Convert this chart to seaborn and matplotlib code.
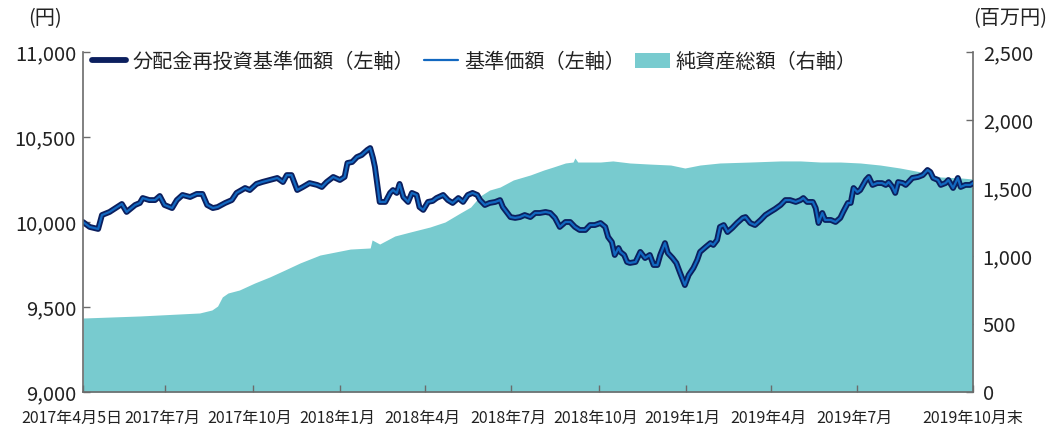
import matplotlib
matplotlib.use("Agg")
import matplotlib.pyplot as plt
import matplotlib.transforms as mtransforms
from matplotlib.lines import Line2D
from matplotlib.patches import Patch
import pandas as pd
import seaborn as sns

# ---------------- data ----------------
nav_dates = [
    "2017-04-05", "2017-04-12", "2017-04-21", "2017-04-25", "2017-05-03", "2017-05-16", "2017-05-21",
    "2017-05-30", "2017-06-04", "2017-06-07", "2017-06-14", "2017-06-20", "2017-06-25", "2017-06-30",
    "2017-07-08", "2017-07-13", "2017-07-19", "2017-07-27", "2017-08-03", "2017-08-09", "2017-08-14",
    "2017-08-20", "2017-08-25", "2017-09-02", "2017-09-09", "2017-09-14", "2017-09-23", "2017-09-28",
    "2017-10-05", "2017-10-11", "2017-10-19", "2017-10-27", "2017-11-02", "2017-11-06", "2017-11-11",
    "2017-11-17", "2017-11-23", "2017-11-30", "2017-12-08", "2017-12-13", "2017-12-18", "2017-12-25",
    "2018-01-01", "2018-01-06", "2018-01-09", "2018-01-14", "2018-01-19", "2018-01-24", "2018-01-30",
    "2018-02-02", "2018-02-05", "2018-02-07", "2018-02-10", "2018-02-12", "2018-02-18", "2018-02-23",
    "2018-02-26", "2018-03-02", "2018-03-05", "2018-03-09", "2018-03-14", "2018-03-18", "2018-03-23",
    "2018-03-26", "2018-03-30", "2018-04-04", "2018-04-09", "2018-04-13", "2018-04-20", "2018-04-25",
    "2018-04-30", "2018-05-06", "2018-05-11", "2018-05-16", "2018-05-21", "2018-05-26", "2018-05-29",
    "2018-06-03", "2018-06-08", "2018-06-14", "2018-06-19", "2018-06-22", "2018-06-26", "2018-06-30",
    "2018-07-05", "2018-07-10", "2018-07-15", "2018-07-21", "2018-07-26", "2018-07-31", "2018-08-06",
    "2018-08-11", "2018-08-16", "2018-08-21", "2018-08-27", "2018-09-01", "2018-09-06", "2018-09-11",
    "2018-09-17", "2018-09-22", "2018-09-27", "2018-10-03", "2018-10-08", "2018-10-11", "2018-10-15",
    "2018-10-18", "2018-10-22", "2018-10-24", "2018-10-28", "2018-10-31", "2018-11-03", "2018-11-09",
    "2018-11-14", "2018-11-19", "2018-11-24", "2018-11-28", "2018-12-02", "2018-12-05", "2018-12-10",
    "2018-12-13", "2018-12-18", "2018-12-22", "2018-12-26", "2018-12-31", "2019-01-04", "2019-01-09",
    "2019-01-13", "2019-01-16", "2019-01-22", "2019-01-27", "2019-01-30", "2019-02-03", "2019-02-06",
    "2019-02-10", "2019-02-14", "2019-02-19", "2019-02-24", "2019-03-02", "2019-03-05", "2019-03-10",
    "2019-03-15", "2019-03-21", "2019-03-26", "2019-03-31", "2019-04-05", "2019-04-11", "2019-04-16",
    "2019-04-21", "2019-04-27", "2019-05-02", "2019-05-05", "2019-05-09", "2019-05-15", "2019-05-18",
    "2019-05-21", "2019-05-25", "2019-05-28", "2019-06-03", "2019-06-08", "2019-06-13", "2019-06-16",
    "2019-06-21", "2019-06-24", "2019-06-27", "2019-07-01", "2019-07-04", "2019-07-10", "2019-07-13",
    "2019-07-17", "2019-07-22", "2019-07-27", "2019-07-31", "2019-08-03", "2019-08-07", "2019-08-10",
    "2019-08-13", "2019-08-18", "2019-08-21", "2019-08-24", "2019-08-28", "2019-09-03", "2019-09-08",
    "2019-09-13", "2019-09-16", "2019-09-19", "2019-09-24", "2019-09-27", "2019-10-02", "2019-10-05",
    "2019-10-10", "2019-10-15", "2019-10-18", "2019-10-23", "2019-10-28", "2019-10-31",
]
nav_values = [
    10000, 9971, 9959, 10041, 10059, 10106, 10059,
    10100, 10112, 10141, 10129, 10129, 10153, 10100,
    10082, 10129, 10159, 10147, 10165, 10165, 10100,
    10082, 10088, 10112, 10129, 10171, 10200, 10188,
    10224, 10235, 10247, 10259, 10235, 10276, 10276,
    10188, 10206, 10229, 10218, 10206, 10235, 10265,
    10247, 10265, 10347, 10353, 10382, 10394, 10424,
    10435, 10376, 10324, 10200, 10118, 10118, 10171,
    10188, 10171, 10224, 10147, 10118, 10171, 10159,
    10088, 10071, 10118, 10124, 10141, 10159, 10129,
    10112, 10141, 10118, 10159, 10171, 10159, 10129,
    10100, 10112, 10118, 10129, 10088, 10059, 10029,
    10024, 10029, 10041, 10029, 10053, 10053, 10059,
    10053, 10024, 9971, 10000, 10000, 9971, 9953,
    9953, 9982, 9982, 9994, 9971, 9912, 9882,
    9806, 9847, 9824, 9806, 9765, 9759, 9765,
    9824, 9788, 9806, 9747, 9747, 9806, 9876,
    9818, 9788, 9759, 9700, 9629, 9688, 9729,
    9776, 9824, 9853, 9876, 9865, 9894, 9971,
    9982, 9941, 9965, 9994, 10024, 10029, 9994,
    9982, 10012, 10041, 10059, 10076, 10100, 10129,
    10129, 10118, 10129, 10141, 10118, 10118, 10082,
    9994, 10053, 10012, 10012, 10000, 10024, 10059,
    10112, 10112, 10200, 10176, 10188, 10247, 10265,
    10218, 10229, 10229, 10218, 10235, 10206, 10171,
    10235, 10229, 10218, 10235, 10259, 10265, 10276,
    10306, 10294, 10259, 10247, 10218, 10229, 10247,
    10200, 10259, 10206, 10218, 10218, 10229,
]
# no distributions were paid, so the reinvested NAV coincides with the NAV
reinvested_values = list(nav_values)

asset_dates = [
    "2017-04-05", "2017-06-04", "2017-08-06", "2017-08-19", "2017-08-25", "2017-08-30", "2017-09-05",
    "2017-09-17", "2017-10-03", "2017-10-19", "2017-11-04", "2017-11-20", "2017-12-11", "2017-12-27",
    "2018-01-12", "2018-02-02", "2018-02-04", "2018-02-12", "2018-02-28", "2018-03-16", "2018-04-06",
    "2018-04-22", "2018-05-08", "2018-05-19", "2018-05-29", "2018-06-08", "2018-06-19", "2018-07-03",
    "2018-07-21", "2018-08-04", "2018-08-14", "2018-08-27", "2018-09-04", "2018-09-06", "2018-09-09",
    "2018-10-03", "2018-10-16", "2018-11-03", "2018-11-24", "2018-12-16", "2018-12-31", "2019-01-16",
    "2019-02-06", "2019-03-10", "2019-04-11", "2019-05-02", "2019-05-23", "2019-06-13", "2019-07-04",
    "2019-07-25", "2019-08-15", "2019-09-06", "2019-09-27", "2019-10-18", "2019-10-31",
]
asset_values = [
    544, 559, 581, 603, 632, 699, 728,
    750, 801, 846, 897, 949, 1007, 1029,
    1051, 1059, 1118, 1088, 1147, 1176, 1213,
    1250, 1316, 1360, 1441, 1485, 1507, 1559,
    1596, 1632, 1654, 1684, 1691, 1721, 1691,
    1691, 1699, 1684, 1676, 1669, 1647, 1669,
    1684, 1691, 1699, 1699, 1691, 1691, 1684,
    1669, 1647, 1618, 1581, 1574, 1566,
]

tick_dates = ["2017-04-05", "2017-07-01", "2017-10-01", "2018-01-01", "2018-04-01", "2018-07-01",
              "2018-10-01", "2019-01-01", "2019-04-01", "2019-07-01", "2019-10-31"]
tick_labels = ["2017年4月5日", "2017年7月", "2017年10月", "2018年1月", "2018年4月", "2018年7月",
               "2018年10月", "2019年1月", "2019年4月", "2019年7月", "2019年10月末"]
left_ticks = [9000, 9500, 10000, 10500, 11000]
right_ticks = [0, 500, 1000, 1500, 2000, 2500]
series_labels = ["分配金再投資基準価額（左軸）", "基準価額（左軸）", "純資産総額（右軸）"]

# ---------------- style ----------------
NAVY = "#0b1f5e"
BLUE = "#1268c0"
TEAL = "#78cbcf"
SPINE = "#6b6b6b"
TEXT = "#222222"

sns.set_style("ticks")
plt.rcParams["font.family"] = ["Noto Sans CJK JP", "DejaVu Sans"]

fig = plt.figure(figsize=(10.53, 4.30), dpi=100)
ax = fig.add_axes([83 / 1053, 1 - 392 / 430, (973 - 83) / 1053, (392 - 52) / 430])
ax_r = ax.twinx()
ax.set_zorder(ax_r.get_zorder() + 1)
ax.patch.set_visible(False)

nav_df = pd.DataFrame({"date": pd.to_datetime(nav_dates),
                       "nav": nav_values, "reinvested": reinvested_values})
asset_df = pd.DataFrame({"date": pd.to_datetime(asset_dates), "assets": asset_values})

ax_r.fill_between(asset_df["date"], asset_df["assets"], 0, color=TEAL, lw=0)
sns.lineplot(data=nav_df, x="date", y="reinvested", ax=ax, color=NAVY, lw=4.2,
             legend=False, solid_joinstyle="round")
sns.lineplot(data=nav_df, x="date", y="nav", ax=ax, color=BLUE, lw=1.6,
             legend=False, solid_joinstyle="round")

ax.set_xlim(pd.Timestamp(tick_dates[0]), pd.Timestamp(tick_dates[-1]))
ax.set_ylim(left_ticks[0], left_ticks[-1])
ax_r.set_ylim(right_ticks[0], right_ticks[-1])

ax.set_xticks(pd.to_datetime(tick_dates))
ax.set_xticklabels(tick_labels)
ax.set_yticks(left_ticks)
ax.set_yticklabels([f"{v:,}" for v in left_ticks])
ax_r.set_yticks(right_ticks)
ax_r.set_yticklabels([f"{v:,}" for v in right_ticks])
ax.set_xlabel("")
ax.set_ylabel("")
ax_r.set_ylabel("")

for a in (ax, ax_r):
    a.spines["top"].set_visible(False)
    for s in ("left", "right", "bottom"):
        a.spines[s].set_color(SPINE)
        a.spines[s].set_linewidth(1.2)
ax.spines["right"].set_visible(False)
ax_r.spines["left"].set_visible(False)
ax_r.spines["bottom"].set_visible(False)

ax.tick_params(axis="x", direction="in", length=5, width=1, color=SPINE,
               labelsize=11.5, labelcolor=TEXT, pad=13)
ax.tick_params(axis="y", direction="in", length=5, width=1, color=SPINE,
               labelsize=14.5, labelcolor=TEXT, pad=5)
ax_r.tick_params(axis="y", direction="in", length=5, width=1, color=SPINE,
                 labelsize=14.5, labelcolor=TEXT, pad=7)

# the first date label sits a little left of the axis start, as in the reference
xlabels = ax.get_xticklabels()
shift = mtransforms.ScaledTranslation(-11 / 100, 0, fig.dpi_scale_trans)
xlabels[0].set_transform(xlabels[0].get_transform() + shift)
for lab in xlabels[1:-1]:
    lab.set_transform(lab.get_transform() + mtransforms.ScaledTranslation(-3 / 100, 0, fig.dpi_scale_trans))

fig.text(45 / 1053, 1 - 19 / 430, "(円)", ha="center", va="center", fontsize=14.5, color=TEXT)
fig.text(1010 / 1053, 1 - 19 / 430, "(百万円)", ha="center", va="center", fontsize=14.5, color=TEXT)

handles = [Line2D([], [], color=NAVY, lw=4.2),
           Line2D([], [], color=BLUE, lw=1.6),
           Patch(facecolor=TEAL, edgecolor="none")]
ax.legend(handles, series_labels, loc="center left",
          bbox_to_anchor=(92 / 1053, 1 - 62 / 430), bbox_transform=fig.transFigure,
          ncol=3, frameon=False, fontsize=14.5, handlelength=1.7, handletextpad=0.3,
          columnspacing=0.5, borderpad=0, borderaxespad=0, labelcolor=TEXT)

fig.savefig("out.png", dpi=100)
